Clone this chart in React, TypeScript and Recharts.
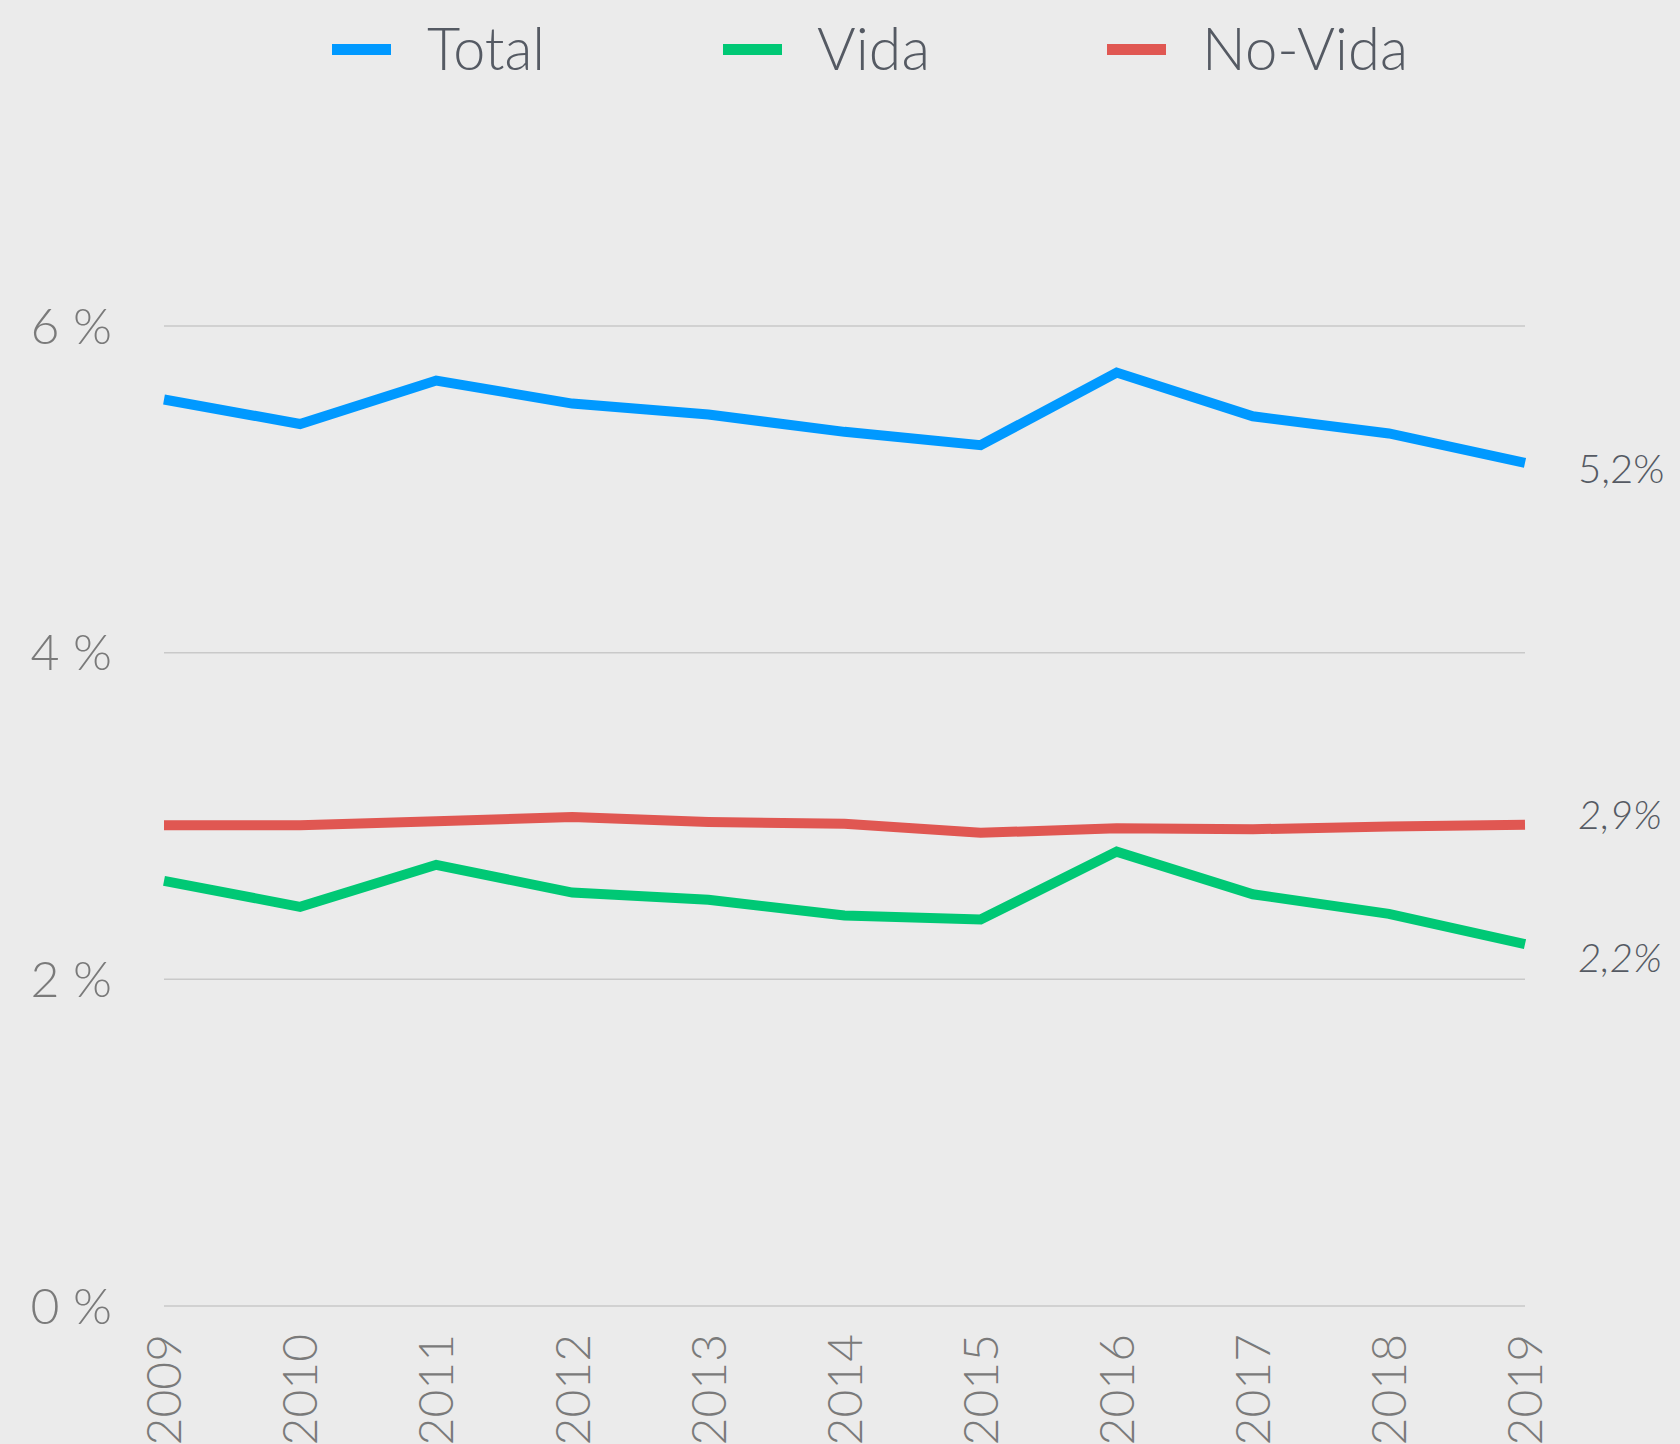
import { LineChart, Line, XAxis, YAxis, CartesianGrid, Legend, LabelList } from 'recharts';

const years = ['2009', '2010', '2011', '2012', '2013', '2014', '2015', '2016', '2017', '2018', '2019'];
const total = [5.55, 5.4, 5.666, 5.525, 5.458, 5.352, 5.27, 5.715, 5.447, 5.342, 5.162];
const vida = [2.603, 2.444, 2.701, 2.531, 2.487, 2.391, 2.366, 2.782, 2.521, 2.401, 2.216];
const noVida = [2.944, 2.944, 2.968, 2.994, 2.964, 2.952, 2.897, 2.925, 2.919, 2.935, 2.946];
const yTicks = [0, 2, 4, 6];

const series = [
  { key: 'total', name: 'Total', color: '#0099ff', italic: false, dy: 5 },
  { key: 'vida', name: 'Vida', color: '#00c875', italic: true, dy: 13 },
  { key: 'noVida', name: 'No-Vida', color: '#e05752', italic: true, dy: -11 },
];

const data = years.map((year, i) => ({
  year,
  total: total[i],
  vida: vida[i],
  noVida: noVida[i],
}));

const FONT = 'Lato, "Open Sans", sans-serif';
const TEXT_DARK = '#555a63';
const TEXT_GRAY = '#7a7a7a';

// legend drawn by hand so it sits at the very top, like the original
const legendPos = [
  { swatch: 332, text: 427, width: 118 },
  { swatch: 723, text: 817, width: 113 },
  { swatch: 1107, text: 1202, width: 206 },
];

const CustomLegend = () => (
  <svg width={1680} height={100} style={{ display: 'block' }}>
    {series.map((s, i) => (
      <g key={s.key}>
        <rect x={legendPos[i].swatch} y={44} width={59} height={11} fill={s.color} />
        <text
          x={legendPos[i].text}
          y={70}
          fontFamily={FONT}
          fontWeight={300}
          fontSize={59}
          fill={TEXT_DARK}
          textLength={legendPos[i].width}
          lengthAdjust="spacingAndGlyphs"
        >
          {s.name}
        </text>
      </g>
    ))}
  </svg>
);

const XTick = ({ x, y, payload }: any) => (
  <text
    x={x}
    y={y + 28}
    transform={`rotate(-90, ${x}, ${y + 28})`}
    textAnchor="end"
    dy="0.36em"
    fontFamily={FONT}
    fontWeight={300}
    fontSize={48}
    fill={TEXT_GRAY}
  >
    {payload.value}
  </text>
);

const endLabel = (s: typeof series[number]) => (props: any) => {
  const { x, y, index, value } = props;
  if (index !== years.length - 1) return null;
  return (
    <text
      x={x + 53}
      y={y + s.dy}
      dominantBaseline="central"
      fontFamily={FONT}
      fontWeight={300}
      fontStyle={s.italic ? 'italic' : 'normal'}
      fontSize={40}
      fill={TEXT_DARK}
    >
      {Number(value).toFixed(1).replace('.', ',')}%
    </text>
  );
};

export default function App() {
  return (
    <div style={{ position: 'absolute', top: 0, left: 0, width: 1680, height: 1444, background: '#ebebeb' }}>
      <LineChart
        width={1680}
        height={1444}
        data={data}
        margin={{ top: 326, right: 155, left: 0, bottom: 8 }}
      >
        <CartesianGrid vertical={false} stroke="#c9c9c9" strokeWidth={1.5} />
        <XAxis
          dataKey="year"
          height={130}
          axisLine={false}
          tickLine={false}
          tickSize={0}
          tickMargin={0}
          interval={0}
          tick={<XTick />}
        />
        <YAxis
          width={164}
          domain={[0, 6]}
          ticks={yTicks}
          axisLine={false}
          tickLine={false}
          tickSize={0}
          tickMargin={52}
          tickFormatter={(v) => `${v} %`}
          tick={{ fontFamily: FONT, fontWeight: 300, fontSize: 50, fill: TEXT_GRAY }}
        />
        <Legend
          verticalAlign="middle"
          align="center"
          content={<CustomLegend />}
          wrapperStyle={{ top: 0, left: 0, width: 1680, height: 100 }}
        />
        {series.map((s) => (
          <Line
            key={s.key}
            type="linear"
            dataKey={s.key}
            name={s.name}
            stroke={s.color}
            strokeWidth={10}
            dot={false}
            activeDot={false}
            isAnimationActive={false}
          >
            <LabelList dataKey={s.key} content={endLabel(s)} />
          </Line>
        ))}
      </LineChart>
    </div>
  );
}
